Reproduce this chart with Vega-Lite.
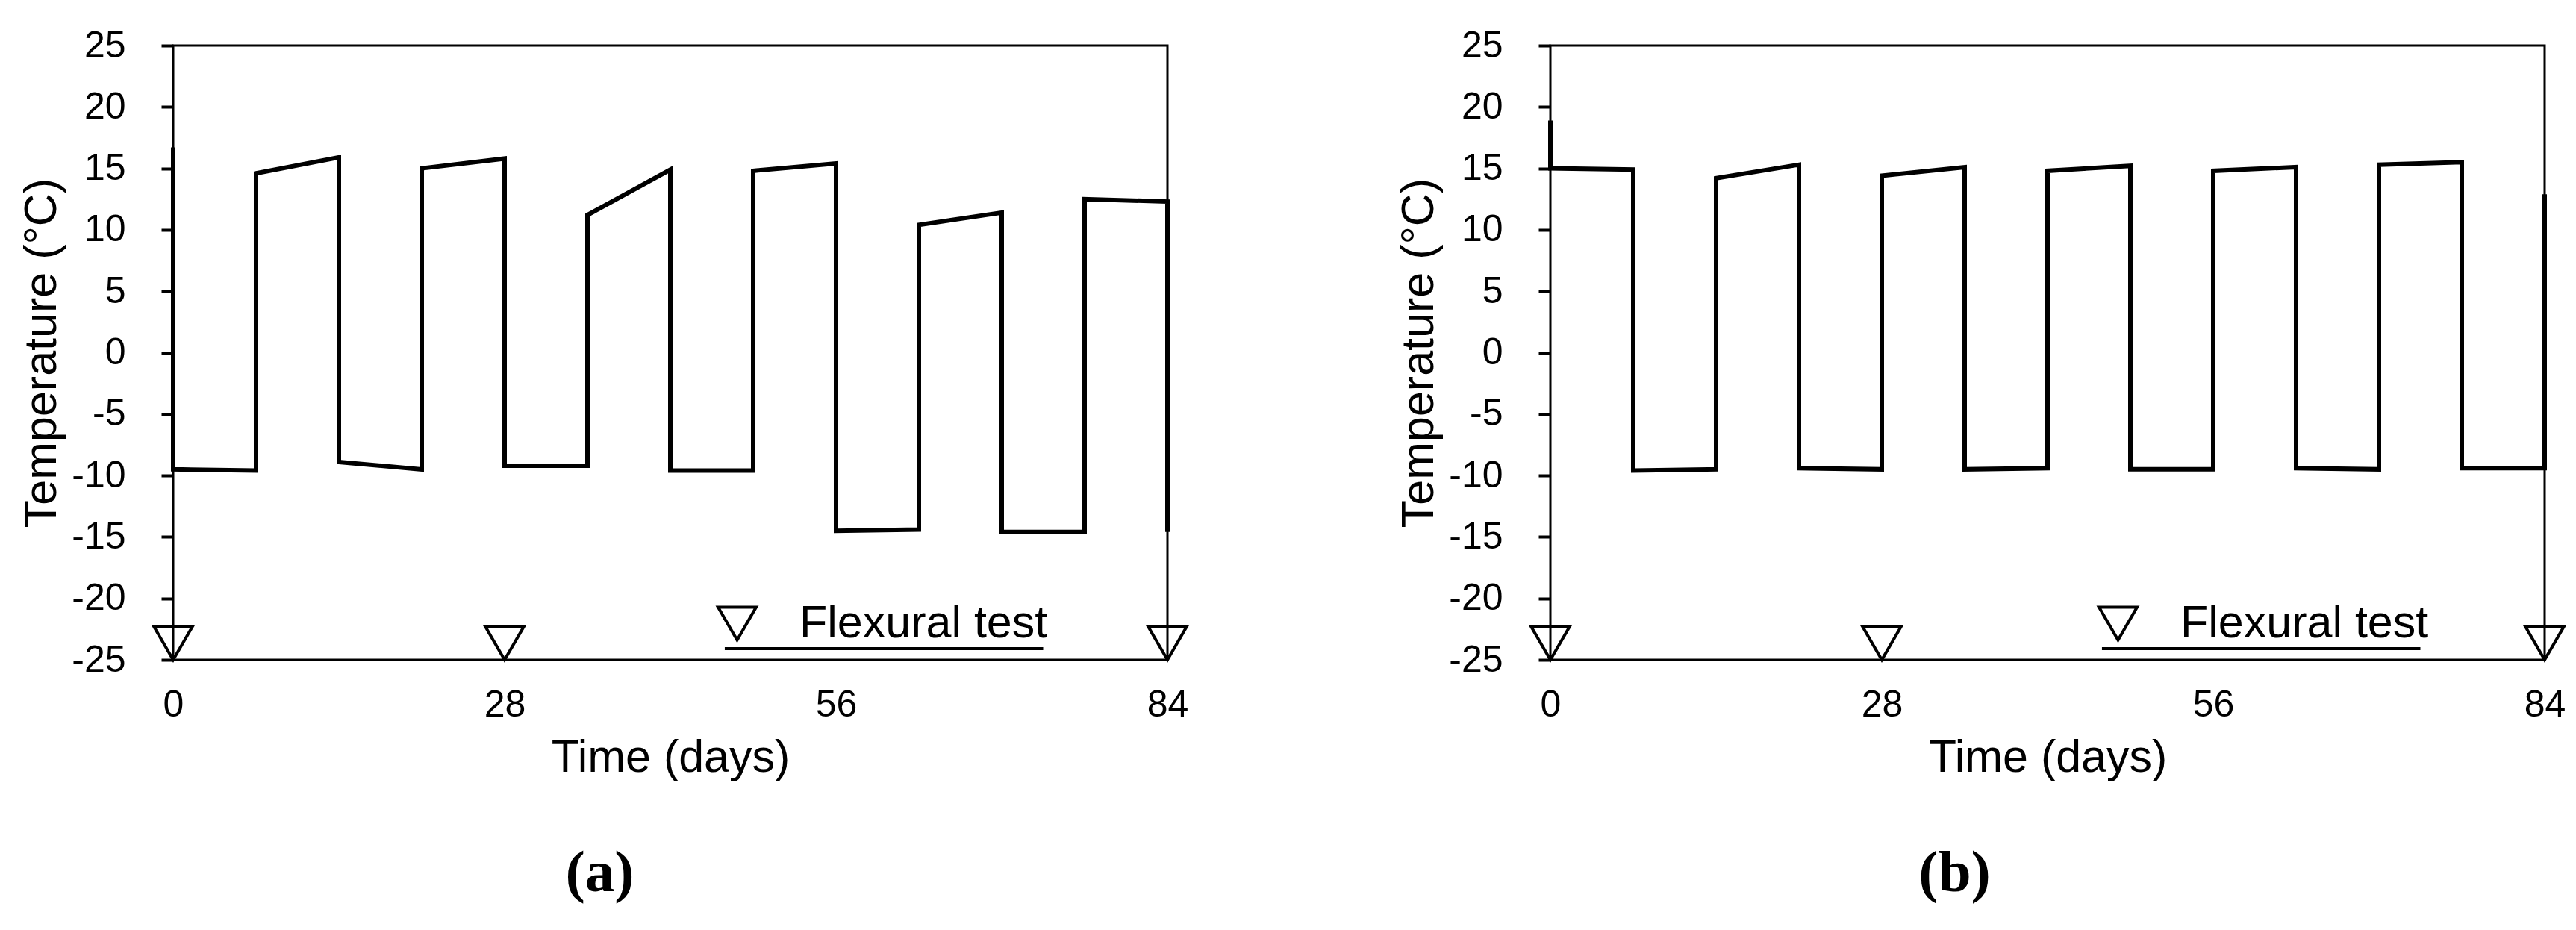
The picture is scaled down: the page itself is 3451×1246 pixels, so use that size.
{
  "$schema": "https://vega.github.io/schema/vega-lite/v6.json",
  "background": "white",
  "padding": {"left": 24, "top": 34, "right": 0, "bottom": 0},
  "config": {
    "font": "Liberation Sans",
    "view": {"stroke": "black", "strokeWidth": 3},
    "axis": {"labelColor": "black", "titleColor": "black", "labelFont": "Liberation Sans", "titleFont": "Liberation Sans", "titleFontWeight": "normal", "grid": false, "labelFlush": false, "labelOverlap": false}
  },
  "datasets": {
    "temps": [
      {"panel": "a", "seq": 1, "day": 0, "temp": 16.7},
      {"panel": "a", "seq": 2, "day": 0, "temp": -9.5},
      {"panel": "a", "seq": 3, "day": 7, "temp": -9.6},
      {"panel": "a", "seq": 4, "day": 7, "temp": 14.6},
      {"panel": "a", "seq": 5, "day": 14, "temp": 15.9},
      {"panel": "a", "seq": 6, "day": 14, "temp": -8.9},
      {"panel": "a", "seq": 7, "day": 21, "temp": -9.5},
      {"panel": "a", "seq": 8, "day": 21, "temp": 15.0},
      {"panel": "a", "seq": 9, "day": 28, "temp": 15.8},
      {"panel": "a", "seq": 10, "day": 28, "temp": -9.2},
      {"panel": "a", "seq": 11, "day": 35, "temp": -9.2},
      {"panel": "a", "seq": 12, "day": 35, "temp": 11.2},
      {"panel": "a", "seq": 13, "day": 42, "temp": 14.9},
      {"panel": "a", "seq": 14, "day": 42, "temp": -9.6},
      {"panel": "a", "seq": 15, "day": 49, "temp": -9.6},
      {"panel": "a", "seq": 16, "day": 49, "temp": 14.8},
      {"panel": "a", "seq": 17, "day": 56, "temp": 15.4},
      {"panel": "a", "seq": 18, "day": 56, "temp": -14.5},
      {"panel": "a", "seq": 19, "day": 63, "temp": -14.4},
      {"panel": "a", "seq": 20, "day": 63, "temp": 10.4},
      {"panel": "a", "seq": 21, "day": 70, "temp": 11.4},
      {"panel": "a", "seq": 22, "day": 70, "temp": -14.6},
      {"panel": "a", "seq": 23, "day": 77, "temp": -14.6},
      {"panel": "a", "seq": 24, "day": 77, "temp": 12.5},
      {"panel": "a", "seq": 25, "day": 84, "temp": 12.3},
      {"panel": "a", "seq": 26, "day": 84, "temp": -14.6},
      {"panel": "b", "seq": 1, "day": 0, "temp": 18.9},
      {"panel": "b", "seq": 2, "day": 0, "temp": 15.0},
      {"panel": "b", "seq": 3, "day": 7, "temp": 14.9},
      {"panel": "b", "seq": 4, "day": 7, "temp": -9.6},
      {"panel": "b", "seq": 5, "day": 14, "temp": -9.5},
      {"panel": "b", "seq": 6, "day": 14, "temp": 14.2},
      {"panel": "b", "seq": 7, "day": 21, "temp": 15.3},
      {"panel": "b", "seq": 8, "day": 21, "temp": -9.4},
      {"panel": "b", "seq": 9, "day": 28, "temp": -9.5},
      {"panel": "b", "seq": 10, "day": 28, "temp": 14.4},
      {"panel": "b", "seq": 11, "day": 35, "temp": 15.1},
      {"panel": "b", "seq": 12, "day": 35, "temp": -9.5},
      {"panel": "b", "seq": 13, "day": 42, "temp": -9.4},
      {"panel": "b", "seq": 14, "day": 42, "temp": 14.8},
      {"panel": "b", "seq": 15, "day": 49, "temp": 15.2},
      {"panel": "b", "seq": 16, "day": 49, "temp": -9.5},
      {"panel": "b", "seq": 17, "day": 56, "temp": -9.5},
      {"panel": "b", "seq": 18, "day": 56, "temp": 14.8},
      {"panel": "b", "seq": 19, "day": 63, "temp": 15.1},
      {"panel": "b", "seq": 20, "day": 63, "temp": -9.4},
      {"panel": "b", "seq": 21, "day": 70, "temp": -9.5},
      {"panel": "b", "seq": 22, "day": 70, "temp": 15.3},
      {"panel": "b", "seq": 23, "day": 77, "temp": 15.5},
      {"panel": "b", "seq": 24, "day": 77, "temp": -9.4},
      {"panel": "b", "seq": 25, "day": 84, "temp": -9.4},
      {"panel": "b", "seq": 26, "day": 84, "temp": 12.9}
    ],
    "tests": [
      {"day": 0, "test": "Flexural test"},
      {"day": 28, "test": "Flexural test"},
      {"day": 84, "test": "Flexural test"}
    ],
    "underline": [
      {"start": 46.6, "end": 73.5, "level": -24.09}
    ]
  },
  "bounds": "flush",
  "spacing": 513,
  "resolve": {"scale": {"shape": "independent"}, "legend": {"shape": "independent"}},
  "hconcat": [
    {
      "width": 1332,
      "height": 823,
      "title": {"text": "(a)", "orient": "bottom", "anchor": "middle", "frame": "bounds", "font": "Liberation Serif", "fontSize": 79, "fontWeight": "bold", "color": "black", "offset": 87, "dx": -8},
      "layer": [
        {
          "mark": {"type": "rule", "color": "black", "strokeWidth": 4},
          "encoding": {"y": {"datum": 0, "type": "quantitative", "scale": {"domain": [-25, 25]}}}
        },
        {
          "data": {"name": "temps"},
          "transform": [{"filter": "datum.panel === 'a'"}],
          "mark": {"type": "line", "color": "black", "strokeWidth": 6},
          "encoding": {
            "x": {"field": "day", "type": "quantitative", "scale": {"domain": [0, 84], "nice": false},
              "axis": {"title": "Time (days)", "values": [0, 28, 56, 84], "ticks": false, "tickSize": 0, "domain": false, "labelPadding": 35, "labelFontSize": 50, "titleFontSize": 61, "titlePadding": 16}},
            "y": {"field": "temp", "type": "quantitative", "scale": {"domain": [-25, 25], "nice": false},
              "axis": {"title": "Temperature (°C)", "values": [-25, -20, -15, -10, -5, 0, 5, 10, 15, 20, 25], "labelExpr": "datum.value < 0 ? '-' + abs(datum.value) : '' + datum.value", "tickSize": 16, "tickWidth": 4, "tickColor": "black", "domain": false, "labelPadding": 48, "labelFontSize": 50, "titleFontSize": 61, "titlePadding": 8}},
            "order": {"field": "seq", "type": "quantitative"}
          }
        },
        {
          "data": {"name": "tests"},
          "mark": {"type": "point", "filled": false, "color": "black", "strokeWidth": 4, "size": 2601, "yOffset": -22, "opacity": 1},
          "encoding": {
            "x": {"field": "day", "type": "quantitative"},
            "y": {"datum": -25, "type": "quantitative"},
            "shape": {"field": "test", "type": "nominal", "scale": {"range": ["triangle-down"]},
              "legend": {"title": null, "orient": "none", "legendX": 725, "legendY": 744, "padding": 0, "symbolSize": 2601, "symbolStrokeWidth": 4, "symbolStrokeColor": "black", "symbolFillColor": "white", "symbolOpacity": 1, "labelFontSize": 61, "labelFont": "Liberation Sans", "labelColor": "black", "labelOffset": 53, "labelLimit": 0}}
          }
        },
        {
          "data": {"name": "underline"},
          "mark": {"type": "rule", "color": "black", "strokeWidth": 4},
          "encoding": {
            "x": {"field": "start", "type": "quantitative"},
            "x2": {"field": "end"},
            "y": {"field": "level", "type": "quantitative"}
          }
        }
      ]
    },
    {
      "width": 1332,
      "height": 823,
      "title": {"text": "(b)", "orient": "bottom", "anchor": "middle", "frame": "bounds", "font": "Liberation Serif", "fontSize": 79, "fontWeight": "bold", "color": "black", "offset": 87, "dx": -38},
      "layer": [
        {
          "mark": {"type": "rule", "color": "black", "strokeWidth": 4},
          "encoding": {"y": {"datum": 0, "type": "quantitative", "scale": {"domain": [-25, 25]}}}
        },
        {
          "data": {"name": "temps"},
          "transform": [{"filter": "datum.panel === 'b'"}],
          "mark": {"type": "line", "color": "black", "strokeWidth": 6},
          "encoding": {
            "x": {"field": "day", "type": "quantitative", "scale": {"domain": [0, 84], "nice": false},
              "axis": {"title": "Time (days)", "values": [0, 28, 56, 84], "ticks": false, "tickSize": 0, "domain": false, "labelPadding": 35, "labelFontSize": 50, "titleFontSize": 61, "titlePadding": 16}},
            "y": {"field": "temp", "type": "quantitative", "scale": {"domain": [-25, 25], "nice": false},
              "axis": {"title": "Temperature (°C)", "values": [-25, -20, -15, -10, -5, 0, 5, 10, 15, 20, 25], "labelExpr": "datum.value < 0 ? '-' + abs(datum.value) : '' + datum.value", "tickSize": 16, "tickWidth": 4, "tickColor": "black", "domain": false, "labelPadding": 48, "labelFontSize": 50, "titleFontSize": 61, "titlePadding": 8}},
            "order": {"field": "seq", "type": "quantitative"}
          }
        },
        {
          "data": {"name": "tests"},
          "mark": {"type": "point", "filled": false, "color": "black", "strokeWidth": 4, "size": 2601, "yOffset": -22, "opacity": 1},
          "encoding": {
            "x": {"field": "day", "type": "quantitative"},
            "y": {"datum": -25, "type": "quantitative"},
            "shape": {"field": "test", "type": "nominal", "scale": {"range": ["triangle-down"]},
              "legend": {"title": null, "orient": "none", "legendX": 730, "legendY": 744, "padding": 0, "symbolSize": 2601, "symbolStrokeWidth": 4, "symbolStrokeColor": "black", "symbolFillColor": "white", "symbolOpacity": 1, "labelFontSize": 61, "labelFont": "Liberation Sans", "labelColor": "black", "labelOffset": 53, "labelLimit": 0}}
          }
        },
        {
          "data": {"name": "underline"},
          "mark": {"type": "rule", "color": "black", "strokeWidth": 4},
          "encoding": {
            "x": {"field": "start", "type": "quantitative"},
            "x2": {"field": "end"},
            "y": {"field": "level", "type": "quantitative"}
          }
        }
      ]
    }
  ]
}
